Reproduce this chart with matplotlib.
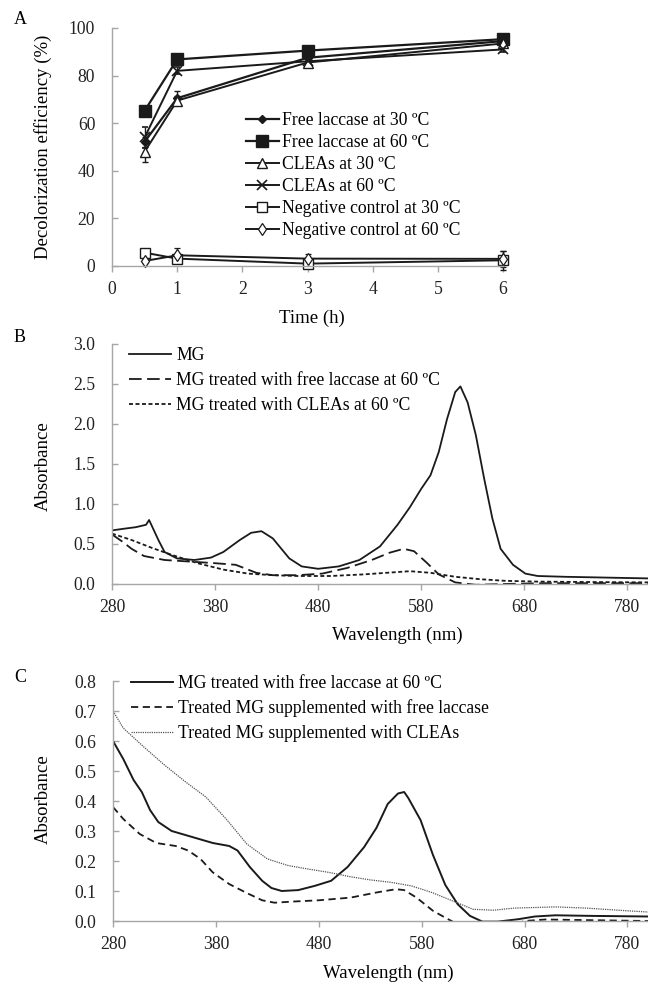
import matplotlib
matplotlib.use("Agg")
import matplotlib.pyplot as plt
import numpy as np

plt.rcParams['font.family'] = ['Liberation Serif', 'DejaVu Serif']

# ---------------- Panel A data ----------------
time_h = [0.5, 1, 3, 6]
free_30 = [52.2, 70.5, 87.5, 94.5]
free_60 = [65.2, 86.8, 90.5, 95.3]
cleas_30 = [48.0, 69.5, 85.5, 93.5]
cleas_60 = [54.0, 82.0, 86.0, 91.0]
neg_30 = [5.6, 3.1, 1.0, 2.4]
neg_60 = [2.1, 4.5, 3.1, 3.0]
free_30_err = [2.0, 3.0, 1.0, 0.5]
free_60_err = [2.0, 1.0, 1.5, 0.8]
cleas_30_err = [4.5, 2.0, 1.5, 0.8]
cleas_60_err = [4.5, 1.5, 1.5, 1.0]
neg_30_err = [1.0, 2.0, 1.5, 4.0]
neg_60_err = [1.0, 3.0, 2.0, 3.5]
labels_a = ["Free laccase at 30 \u00baC", "Free laccase at 60 \u00baC", "CLEAs at 30 \u00baC",
            "CLEAs at 60 \u00baC", "Negative control at 30 \u00baC", "Negative control at 60 \u00baC"]

# ---------------- Panel B data ----------------
wl_mg = [280, 291, 303, 313, 316, 325, 331, 343, 360, 376, 388, 404, 415, 425, 436, 452, 464, 480,
         500, 520, 540, 557, 569, 580, 589, 597, 605, 613, 618, 625, 633, 641, 649, 657, 669, 681,
         693, 720, 760, 800]
abs_mg = [0.67, 0.69, 0.71, 0.74, 0.80, 0.55, 0.40, 0.32, 0.30, 0.33, 0.40, 0.55, 0.64, 0.66, 0.57,
          0.32, 0.22, 0.19, 0.22, 0.30, 0.47, 0.74, 0.96, 1.19, 1.36, 1.65, 2.06, 2.40, 2.47, 2.27,
          1.86, 1.32, 0.82, 0.44, 0.24, 0.13, 0.10, 0.09, 0.08, 0.07]
wl_b_free = [280, 290, 299, 311, 331, 356, 380, 400, 420, 436, 460, 484, 508, 532, 549, 563, 573,
             585, 597, 613, 633, 660, 700, 760, 800]
abs_b_free = [0.62, 0.53, 0.44, 0.35, 0.30, 0.28, 0.26, 0.24, 0.14, 0.11, 0.11, 0.13, 0.20, 0.30,
              0.39, 0.44, 0.41, 0.27, 0.12, 0.02, -0.01, 0.0, 0.01, 0.01, 0.01]
wl_b_cleas = [280, 299, 319, 339, 363, 388, 412, 436, 460, 492, 524, 552, 569, 589, 613, 637, 661,
              693, 740, 800]
abs_b_cleas = [0.63, 0.55, 0.45, 0.36, 0.26, 0.18, 0.13, 0.11, 0.10, 0.10, 0.12, 0.145, 0.16, 0.14,
               0.09, 0.06, 0.04, 0.03, 0.025, 0.02]
labels_b = ["MG", "MG treated with free laccase at 60 \u00baC", "MG treated with CLEAs at 60 \u00baC"]

# ---------------- Panel C data ----------------
wl_c_free = [280, 290, 300, 308, 316, 324, 337, 357, 377, 393, 401, 413, 425, 434, 444, 460, 476,
             492, 508, 524, 536, 547, 557, 563, 567, 579, 591, 603, 615, 627, 639, 654, 674, 690,
             710, 746, 800]
abs_c_free = [0.60, 0.54, 0.47, 0.43, 0.37, 0.33, 0.30, 0.28, 0.26, 0.25, 0.235, 0.18, 0.134, 0.11,
              0.10, 0.103, 0.117, 0.134, 0.18, 0.246, 0.31, 0.39, 0.425, 0.43, 0.41, 0.336, 0.22,
              0.12, 0.056, 0.017, -0.002, -0.002, 0.006, 0.015, 0.019, 0.017, 0.015]
wl_c_sup_free = [280, 290, 306, 322, 341, 353, 365, 377, 393, 409, 425, 437, 456, 480, 511, 536,
                 555, 563, 575, 591, 603, 615, 630, 660, 680, 700, 740, 800]
abs_c_sup_free = [0.38, 0.34, 0.29, 0.26, 0.25, 0.235, 0.207, 0.162, 0.123, 0.095, 0.069, 0.061,
                  0.065, 0.069, 0.078, 0.095, 0.106, 0.103, 0.078, 0.034, 0.011, -0.011, -0.02,
                  -0.02, 0.0, 0.005, 0.003, 0.0]
wl_c_sup_cleas = [280, 290, 310, 330, 350, 370, 390, 410, 430, 450, 470, 490, 510, 530, 550, 570,
                  590, 610, 630, 650, 670, 690, 710, 740, 780, 800]
abs_c_sup_cleas = [0.70, 0.643, 0.58, 0.52, 0.465, 0.414, 0.34, 0.257, 0.207, 0.185, 0.173, 0.162,
                   0.148, 0.137, 0.129, 0.117, 0.095, 0.067, 0.039, 0.036, 0.043, 0.045, 0.047,
                   0.043, 0.034, 0.03]
labels_c = ["MG treated with free laccase at 60 \u00baC", "Treated MG supplemented with free laccase",
            "Treated MG supplemented with CLEAs"]

W, H = 648, 984
fig = plt.figure(figsize=(W / 100, H / 100), dpi=100)

def fx(px):
    return px / W

def fy(py):
    return 1 - py / H

def axes_px(l, t, r, b):
    return fig.add_axes([fx(l), fy(b), fx(r) - fx(l), fy(t) - fy(b)])

SPINE = '#a6a6a6'
LC = '#1a1a1a'
TC = '#222222'
FS = 12.7
LFS = 13.5

def style(ax):
    for s in ['top', 'right']:
        ax.spines[s].set_visible(False)
    for s in ['left', 'bottom']:
        ax.spines[s].set_color(SPINE)
        ax.spines[s].set_linewidth(1.0)
    ax.tick_params(axis='y', direction='in', length=4, width=1, color=SPINE, pad=12, labelsize=FS,
                   labelcolor=TC)
    ax.tick_params(axis='x', direction='out', length=4, width=1, color=SPINE, pad=7, labelsize=FS,
                   labelcolor=TC)

# ---------------- Panel A ----------------
axA = axes_px(112, 28, 503, 266)
style(axA)
ebkw = dict(elinewidth=1.0, capsize=2.5, capthick=1.0, ecolor=LC, clip_on=False)
series_a = [
    (free_30, free_30_err, dict(lw=1.6, marker='D', ms=4.5, mfc=LC, mec=LC)),
    (free_60, free_60_err, dict(lw=1.6, marker='s', ms=8.5, mfc=LC, mec=LC)),
    (cleas_30, cleas_30_err, dict(lw=1.4, marker='^', ms=6.5, mfc='white', mec=LC, mew=1.0)),
    (cleas_60, cleas_60_err, dict(lw=1.4, marker='x', ms=6.5, mec=LC, mew=1.2)),
    (neg_30, neg_30_err, dict(lw=1.4, marker='s', ms=7, mfc='white', mec=LC, mew=1.0)),
    (neg_60, neg_60_err, dict(lw=1.4, marker='d', ms=6.5, mfc='white', mec=LC, mew=0.9)),
]
handles_a = []
for (vals, err, kw), lab in zip(series_a, labels_a):
    cont = axA.errorbar(time_h, vals, yerr=err, color=LC, label=lab, **kw, **ebkw)
    handles_a.append(cont.lines[0])
axA.set_xlim(0, 6)
axA.set_ylim(0, 100)
axA.set_xticks(range(0, 7))
axA.set_yticks(range(0, 101, 20))
axA.legend(handles_a, labels_a, loc='upper left', bbox_to_anchor=(fx(246), fy(112)),
           bbox_transform=fig.transFigure, frameon=False, fontsize=FS,
           handlelength=1.85, handletextpad=0.2, labelspacing=0.28,
           borderpad=0, borderaxespad=0)
fig.text(fx(20), fy(20), 'A', fontsize=13, ha='center', va='center')
fig.text(fx(43), fy(147), 'Decolorization efficiency (%)', rotation=90, fontsize=LFS,
         ha='center', va='center')
fig.text(fx(312), fy(318), 'Time (h)', fontsize=LFS, ha='center', va='center')

# ---------------- Panel B ----------------
axB = axes_px(112, 344, 648, 584)
style(axB)
axB.plot(wl_mg, abs_mg, color=LC, lw=1.3, label=labels_b[0])
axB.plot(wl_b_free, abs_b_free, color=LC, lw=1.3, dashes=(7, 3), label=labels_b[1])
axB.plot(wl_b_cleas, abs_b_cleas, color=LC, lw=1.3, dashes=(2.2, 1.4), label=labels_b[2])
axB.set_xlim(280, 800)
axB.set_ylim(0, 3.0)
axB.set_xticks(range(280, 781, 100))
axB.set_yticks(np.arange(0, 3.01, 0.5))
axB.yaxis.set_major_formatter(matplotlib.ticker.FormatStrFormatter('%.1f'))
axB.legend(loc='upper left', bbox_to_anchor=(fx(129), fy(347)),
           bbox_transform=fig.transFigure, frameon=False, fontsize=FS,
           handlelength=2.4, handletextpad=0.28, labelspacing=0.45,
           borderpad=0, borderaxespad=0)
fig.text(fx(20), fy(337), 'B', fontsize=13, ha='center', va='center')
fig.text(fx(43), fy(466), 'Absorbance', rotation=90, fontsize=LFS, ha='center', va='center')
fig.text(fx(397), fy(635), 'Wavelength (nm)', fontsize=LFS, ha='center', va='center')

# ---------------- Panel C ----------------
axC = axes_px(113, 681, 648, 921)
style(axC)
axC.plot(wl_c_free, abs_c_free, color=LC, lw=1.4, label=labels_c[0])
axC.plot(wl_c_sup_free, abs_c_sup_free, color=LC, lw=1.3, dashes=(4, 2.5), label=labels_c[1])
axC.plot(wl_c_sup_cleas, abs_c_sup_cleas, color='#555555', lw=0.9, dashes=(1, 0.8),
         label=labels_c[2])
axC.set_xlim(280, 800)
axC.set_ylim(0, 0.8)
axC.set_xticks(range(280, 781, 100))
axC.set_yticks(np.arange(0, 0.81, 0.1))
axC.yaxis.set_major_formatter(matplotlib.ticker.FormatStrFormatter('%.1f'))
axC.legend(loc='upper left', bbox_to_anchor=(fx(131), fy(675)),
           bbox_transform=fig.transFigure, frameon=False, fontsize=FS,
           handlelength=2.4, handletextpad=0.28, labelspacing=0.43,
           borderpad=0, borderaxespad=0)
fig.text(fx(20), fy(677), 'C', fontsize=13, ha='center', va='center')
fig.text(fx(43), fy(799), 'Absorbance', rotation=90, fontsize=LFS, ha='center', va='center')
fig.text(fx(388), fy(973), 'Wavelength (nm)', fontsize=LFS, ha='center', va='center')

fig.savefig('out.png', dpi=100)
